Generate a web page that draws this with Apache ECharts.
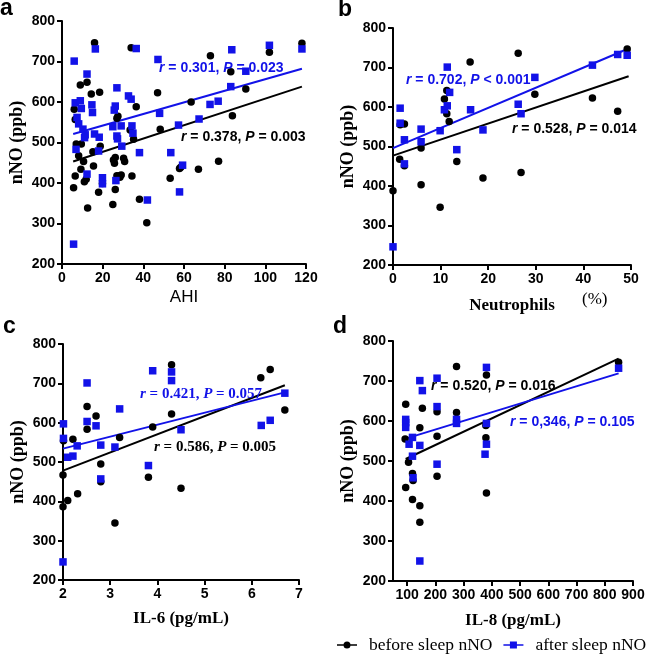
<!DOCTYPE html>
<html>
<head>
<meta charset="utf-8">
<script src="https://cdn.jsdelivr.net/npm/echarts@6/dist/echarts.min.js"></script>
<style>html,body{margin:0;padding:0;background:#fff}#c{width:649px;height:655px}</style>
</head>
<body>
<div id="c"></div>
<script>
// ---------- DATA ----------
const yTicks = [200, 300, 400, 500, 600, 700, 800];
const xTicksA = [0, 20, 40, 60, 80, 100, 120];
const xTicksB = [0, 10, 20, 30, 40, 50];
const xTicksC = [2, 3, 4, 5, 6, 7];
const xTicksD = [100, 200, 300, 400, 500, 600, 700, 800, 900];

// Panel a: AHI vs nNO
const ahiBefore = [[16,746],[34,734],[118,745],[102,723],[73,714],[83,675],[90.4,632],[63.5,600],[47,623],[83.8,566],[77,454],[9,642],[12.3,649],[14.4,620],[18.5,624],[6,582],[6.5,557],[27,560],[27.5,565],[36.5,588],[48.3,533],[35.2,508],[33.5,531],[18.8,491],[7,496],[9.5,496],[8.2,467],[15.2,477],[26.2,463],[30.3,461],[10.6,453],[6.5,417],[5.7,388],[9.3,434],[11,403],[11.9,409],[15.5,442],[12.6,338],[18,377],[19.9,399],[25.3,457],[25.8,449],[26.2,384],[25,347],[27.8,417],[29.1,420],[30.8,453],[34.4,417],[38.1,360],[41.7,302],[53.2,412],[57.8,436],[58.4,439],[67.1,434],[27,418],[28.5,414]];
const ahiAfter = [[6,701],[5.7,249],[16.4,731],[36.5,732],[47.2,705],[102,740],[118,731],[83.5,729],[90.4,676],[83,638],[76.8,602],[72.8,594],[67.4,558],[57.3,543],[53.5,475],[59.3,444],[57.8,378],[42,358],[38.1,475],[12.3,669],[27,635],[32.7,615],[34,607],[6.5,598],[9,603],[9.5,584],[14.7,593],[15,574],[25.7,580],[26.2,590],[7.4,562],[8.2,546],[10.3,533],[11.4,519],[11.1,512],[16,521],[18.3,513],[25,539],[29.1,541],[27,516],[27.3,509],[34.4,541],[34.9,523],[29.4,491],[48,572],[18,479],[6.9,483],[12.3,422],[19.9,413],[19.9,398],[26.5,406]];
const ahiFitBefore = [[5.5,453],[118,638]];
const ahiFitAfter = [[5.5,521],[118,682]];

// Panel b: Neutrophils (%) vs nNO
const neuBefore = [[49.2,747],[26.3,736],[16.2,714],[29.8,632],[41.9,623],[47.2,589],[10.8,620],[11.3,642],[11.3,583],[11.8,563],[1.5,555],[2.4,557],[5.9,496],[1.4,468],[2.4,451],[5.9,403],[0,388],[9.9,346],[13.4,462],[18.9,420],[26.9,434]];
const neuAfter = [[11.4,701],[1.5,597],[1.5,559],[2.4,517],[2.4,456],[5.9,544],[5.9,512],[9.9,540],[10.8,593],[11.4,603],[11.9,637],[13.4,492],[16.3,593],[18.9,542],[0,246],[26.3,607],[26.9,583],[29.8,675],[41.9,706],[47.2,733],[49.2,731]];
const neuFitBefore = [[0,477],[49.5,678]];
const neuFitAfter = [[0,496],[49.5,748]];

// Panel c: IL-6 vs nNO
const il6Before = [[4.3,747],[4.3,622],[3.9,589],[3.2,562],[2.51,641],[2.51,583],[2.7,617],[2.01,554],[2.21,558],[2,467],[2.8,495],[2.8,450],[2.1,402],[2.31,419],[2,386],[3.1,345],[3.81,461],[4.5,433],[6.39,735],[6.19,714],[6.7,632]];
const il6After = [[2.01,597],[2.01,560],[2.1,512],[2.21,515],[2.3,541],[2.51,701],[2.51,603],[2.7,592],[2.8,543],[2.8,457],[3.1,538],[3.2,635],[3.81,491],[3.9,732],[4.3,729],[4.3,707],[4.5,582],[2,246],[6.2,593],[6.39,606],[6.7,675]];
const il6FitBefore = [[2,478],[6.7,695]];
const il6FitAfter = [[2,534],[6.7,677]];

// Panel d: IL-8 vs nNO
const il8Before = [[95,642],[93,555],[105,497],[95,434],[119,469],[121,451],[119,404],[145,583],[154,632],[145,388],[145,347],[206,623],[206,562],[206,462],[275,736],[275,621],[381,715],[379,589],[379,558],[381,420],[849,747]];
const il8After = [[95,604],[95,596],[95,584],[107,542],[119,559],[119,512],[121,458],[145,701],[154,676],[145,539],[145,250],[206,707],[206,636],[206,492],[275,604],[275,594],[381,734],[381,594],[381,542],[376,517],[849,732]];
const il8FitBefore = [[95,505],[849,756]];
const il8FitAfter = [[95,556],[849,719]];

const statA = ['0.301', '0.023', '0.378', '0.003'];
const statB = ['0.702', '0.001', '0.528', '0.014'];
const statC = ['0.421', '0.057', '0.586', '0.005'];
const statD = ['0,346', '0.105', '0.520', '0.016'];

// ---------- STYLE ----------
const SANS = 'Liberation Sans';
const SERIF = 'Liberation Serif';
const BLUE = '#1212e8';
const BLACK = '#000';

const grids = [
  {left: 62, top: 21, width: 244, height: 243},
  {left: 393, top: 28, width: 238, height: 237},
  {left: 63, top: 344, width: 236, height: 236},
  {left: 393, top: 341, width: 240, height: 240}
];

function xAxisDef(i, ticks, min, max, name, nameStyle, nameGap, custom) {
  const a = {
    type: 'value', gridIndex: i, min: min, max: max,
    name: name, nameLocation: 'middle', nameGap: nameGap, nameTextStyle: nameStyle,
    axisLine: {show: true, onZero: false, lineStyle: {color: '#000', width: 2}},
    axisTick: {show: true, inside: false, length: 5, lineStyle: {color: '#000', width: 2}},
    axisLabel: {color: '#000', fontFamily: SANS, fontWeight: 'bold', fontSize: 14, margin: 7},
    splitLine: {show: false}
  };
  if (custom) {
    a.axisTick.customValues = ticks;
    a.axisLabel.customValues = ticks;
  } else {
    a.interval = ticks[1] - ticks[0];
  }
  return a;
}
function yAxisDef(i) {
  return {
    type: 'value', gridIndex: i, min: yTicks[0], max: yTicks[yTicks.length - 1], interval: 100,
    name: 'nNO (ppb)', nameLocation: 'middle', nameGap: 36,
    nameTextStyle: {fontFamily: SERIF, fontWeight: 'bold', fontSize: 18, color: '#000'},
    axisLine: {show: true, onZero: false, lineStyle: {color: '#000', width: 2}},
    axisTick: {show: true, inside: false, length: 5, lineStyle: {color: '#000', width: 2}},
    axisLabel: {color: '#000', fontFamily: SANS, fontWeight: 'bold', fontSize: 14, margin: 7},
    splitLine: {show: false}
  };
}

const serifBold = {fontFamily: SERIF, fontWeight: 'bold', fontSize: 17, color: '#000'};
const xAxes = [
  xAxisDef(0, xTicksA, 0, 120, 'AHI', {fontFamily: SANS, fontSize: 17, color: '#000'}, 25, false),
  xAxisDef(1, xTicksB, 0, 50, 'Neutrophils', serifBold, 32, false),
  xAxisDef(2, xTicksC, 2, 7, 'IL-6 (pg/mL)', serifBold, 30, false),
  xAxisDef(3, xTicksD, 50, 900, 'IL-8 (pg/mL)', serifBold, 31, true)
];
const yAxes = [0, 1, 2, 3].map(yAxisDef);

const panels = [
  [ahiBefore, ahiAfter, ahiFitBefore, ahiFitAfter],
  [neuBefore, neuAfter, neuFitBefore, neuFitAfter],
  [il6Before, il6After, il6FitBefore, il6FitAfter],
  [il8Before, il8After, il8FitBefore, il8FitAfter]
];
const series = [];
panels.forEach(function (p, i) {
  series.push({type: 'line', name: 'fitB' + i, xAxisIndex: i, yAxisIndex: i, data: p[2], showSymbol: false, symbol: 'none',
    lineStyle: {color: BLACK, width: 2}, silent: true, z: 3});
  series.push({type: 'line', name: 'fitA' + i, xAxisIndex: i, yAxisIndex: i, data: p[3], showSymbol: false, symbol: 'none',
    lineStyle: {color: BLUE, width: 2}, silent: true, z: 3});
  series.push({type: 'scatter', name: 'before sleep nNO', xAxisIndex: i, yAxisIndex: i, data: p[0],
    symbol: 'circle', symbolSize: 7.5, itemStyle: {color: BLACK, opacity: 1}, z: 4});
  series.push({type: 'scatter', name: 'after sleep nNO', xAxisIndex: i, yAxisIndex: i, data: p[1],
    symbol: 'rect', symbolSize: 7.5, itemStyle: {color: BLUE, opacity: 1}, z: 4});
});

function statText(x, y, s, which, color, fam, size) {
  const r = which === 0 ? s[0] : s[2];
  const p = which === 0 ? s[1] : s[3];
  const op = (which === 0 && s === statB) ? ' < ' : ' = ';
  const base = {fontFamily: fam, fontWeight: 'bold', fontSize: size, fill: color};
  return {
    type: 'text', x: x, y: y, z: 10,
    style: {
      text: '{i|r}{n| = ' + r + ', }{i|P}{n|' + op + p + '}',
      fill: color, fontFamily: fam, fontWeight: 'bold', fontSize: size, verticalAlign: 'middle', align: 'left',
      rich: {
        i: Object.assign({fontStyle: 'italic'}, base),
        n: Object.assign({fontStyle: 'normal'}, base)
      }
    }
  };
}
function label(t, x, y) {
  return {type: 'text', x: x, y: y, z: 10,
    style: {text: t, fill: '#000', fontFamily: SANS, fontWeight: 'bold', fontSize: 23, verticalAlign: 'middle'}};
}

const graphics = [
  label('a', 0, 9), label('b', 338, 10), label('c', 3, 327), label('d', 333, 327),
  statText(159, 68, statA, 0, BLUE, SANS, 14),
  statText(181, 137, statA, 1, BLACK, SANS, 14),
  statText(406, 80, statB, 0, BLUE, SANS, 14),
  statText(512, 129, statB, 1, BLACK, SANS, 14),
  statText(140, 394, statC, 0, BLUE, SERIF, 15),
  statText(154, 447, statC, 1, BLACK, SERIF, 15),
  statText(431, 386, statD, 1, BLACK, SANS, 14),
  statText(510, 422, statD, 0, BLUE, SANS, 14),
  {type: 'text', x: 582, y: 300, z: 10,
    style: {text: '(%)', fill: '#000', fontFamily: SERIF, fontSize: 17, verticalAlign: 'middle'}}
];

const option = {
  animation: false,
  backgroundColor: '#fff',
  grid: grids,
  xAxis: xAxes,
  yAxis: yAxes,
  series: series,
  legend: {
    left: 337, top: 636, padding: 0, itemWidth: 20, itemHeight: 8, itemGap: 11,
    selectedMode: false,
    textStyle: {fontFamily: SERIF, fontSize: 17.5, color: '#000', padding: [0, 0, 0, 7]},
    data: [
      {name: 'before sleep nNO', icon: 'path://M0,3.2L20,3.2L20,4.8L0,4.8Z M13.5,4A3.5,3.5 0 1 1 6.5,4A3.5,3.5 0 1 1 13.5,4Z'},
      {name: 'after sleep nNO', icon: 'path://M0,3.2L20,3.2L20,4.8L0,4.8Z M6.5,0.5L13.5,0.5L13.5,7.5L6.5,7.5Z'}
    ]
  },
  graphic: graphics
};
const chart = echarts.init(document.getElementById('c'), null, {renderer: 'canvas'});
chart.setOption(option);
</script>
</body>
</html>
